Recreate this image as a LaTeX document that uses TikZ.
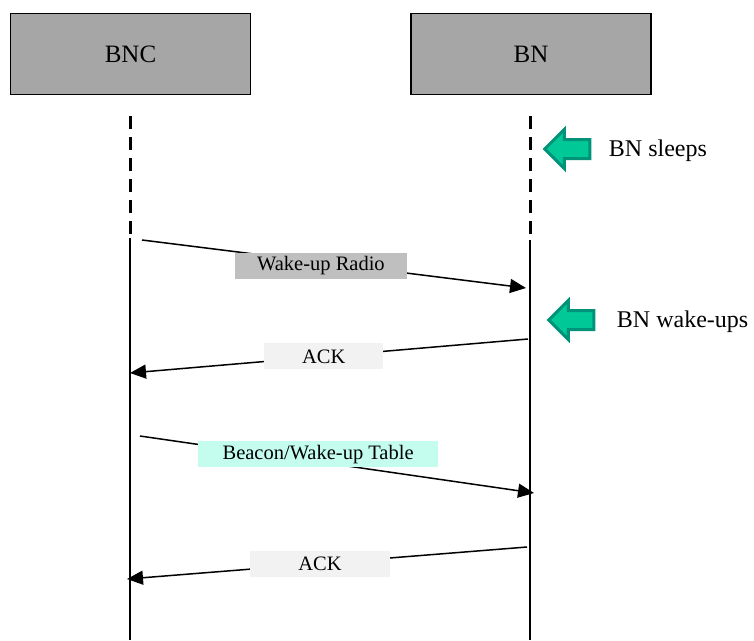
\documentclass[tikz,border=0pt]{standalone}
\usepackage{fontspec}
\setmainfont{Liberation Serif}
\usetikzlibrary{arrows.meta,positioning,shapes.arrows}

\begin{document}
\begin{tikzpicture}[x=1pt,y=-1pt]
  % Colors
  \definecolor{boxgray}{HTML}{A6A6A6}
  \definecolor{radiogray}{HTML}{BFBFBF}
  \definecolor{ackgray}{HTML}{F2F2F2}
  \definecolor{beaconcyan}{HTML}{C4FDEE}
  \definecolor{markfill}{HTML}{00C896}
  \definecolor{markline}{HTML}{00937A}

  % Styles
  \tikzstyle{entity}=[draw,line width=1.5pt,fill=boxgray,minimum width=240pt,minimum height=81pt,font=\fontsize{25}{30}\selectfont]
  \tikzstyle{sleeping}=[line width=3pt,dash pattern=on 13pt off 8pt]
  \tikzstyle{awake}=[line width=1.5pt]
  \tikzstyle{message}=[line width=1.5pt,-{Triangle[length=16pt,width=14pt]}]
  \tikzstyle{message text}=[inner sep=0pt,minimum height=26pt,font=\fontsize{20.5}{24}\selectfont]
  \tikzstyle{state mark}=[single arrow,shape border rotate=180,draw=markline,fill=markfill,line width=3pt,inner xsep=0pt,inner ysep=8pt,minimum height=45pt,minimum width=0pt,single arrow head extend=10pt]
  \tikzstyle{state text}=[inner sep=0pt,font=\fontsize{24}{28}\selectfont]

  \useasboundingbox (0,0) rectangle (754,640);

  % Entities
  \node[entity] (bnc) at (130.5,54) {BNC};
  \node[entity] (bn) at (531,54) {BN};

  % Lifelines
  \coordinate (bnc top) at (130,116);
  \coordinate (bnc wake) at (130,238);
  \coordinate (bnc end) at (130,640);
  \coordinate (bn top) at (530,116);
  \coordinate (bn wake) at (530,240);
  \coordinate (bn end) at (530,640);
  \draw[sleeping] (bnc top) -- (bnc wake);
  \draw[awake] (bnc wake) -- (bnc end);
  \draw[sleeping] (bn top) -- (bn wake);
  \draw[awake] (bn wake) -- (bn end);

  % State marks
  \node[state mark] (sleep mark) at (572,149) {};
  \node[state text,right=17.5pt of sleep mark,yshift=-2pt] (sleep text) {BN sleeps};
  \node[state mark] (wake mark) at (576,320) {};
  \node[state text,right=21.5pt of wake mark,yshift=-2pt] (wake text) {BN wake-ups};

  % Messages
  \coordinate (radio out) at (142,240);
  \coordinate (radio in) at (526,288);
  \coordinate (ack1 out) at (528,339);
  \coordinate (ack1 in) at (130,373);
  \coordinate (beacon out) at (140,436);
  \coordinate (beacon in) at (534,493);
  \coordinate (ack2 out) at (527,547);
  \coordinate (ack2 in) at (127,579);

  \draw[message] (radio out) -- node[message text,fill=radiogray,minimum width=172pt,pos=0.466,yshift=-3.6pt] (radio) {Wake-up Radio} (radio in);
  \draw[message] (ack1 out) -- node[message text,fill=ackgray,minimum width=119pt,pos=0.513] (ack1) {ACK} (ack1 in);
  \draw[message] (beacon out) -- node[message text,fill=beaconcyan,minimum width=240pt,pos=0.452,yshift=7.7pt] (beacon) {Beacon/Wake-up Table} (beacon in);
  \draw[message] (ack2 out) -- node[message text,fill=ackgray,minimum width=140pt,pos=0.5175] (ack2) {ACK} (ack2 in);

\end{tikzpicture}
\end{document}
